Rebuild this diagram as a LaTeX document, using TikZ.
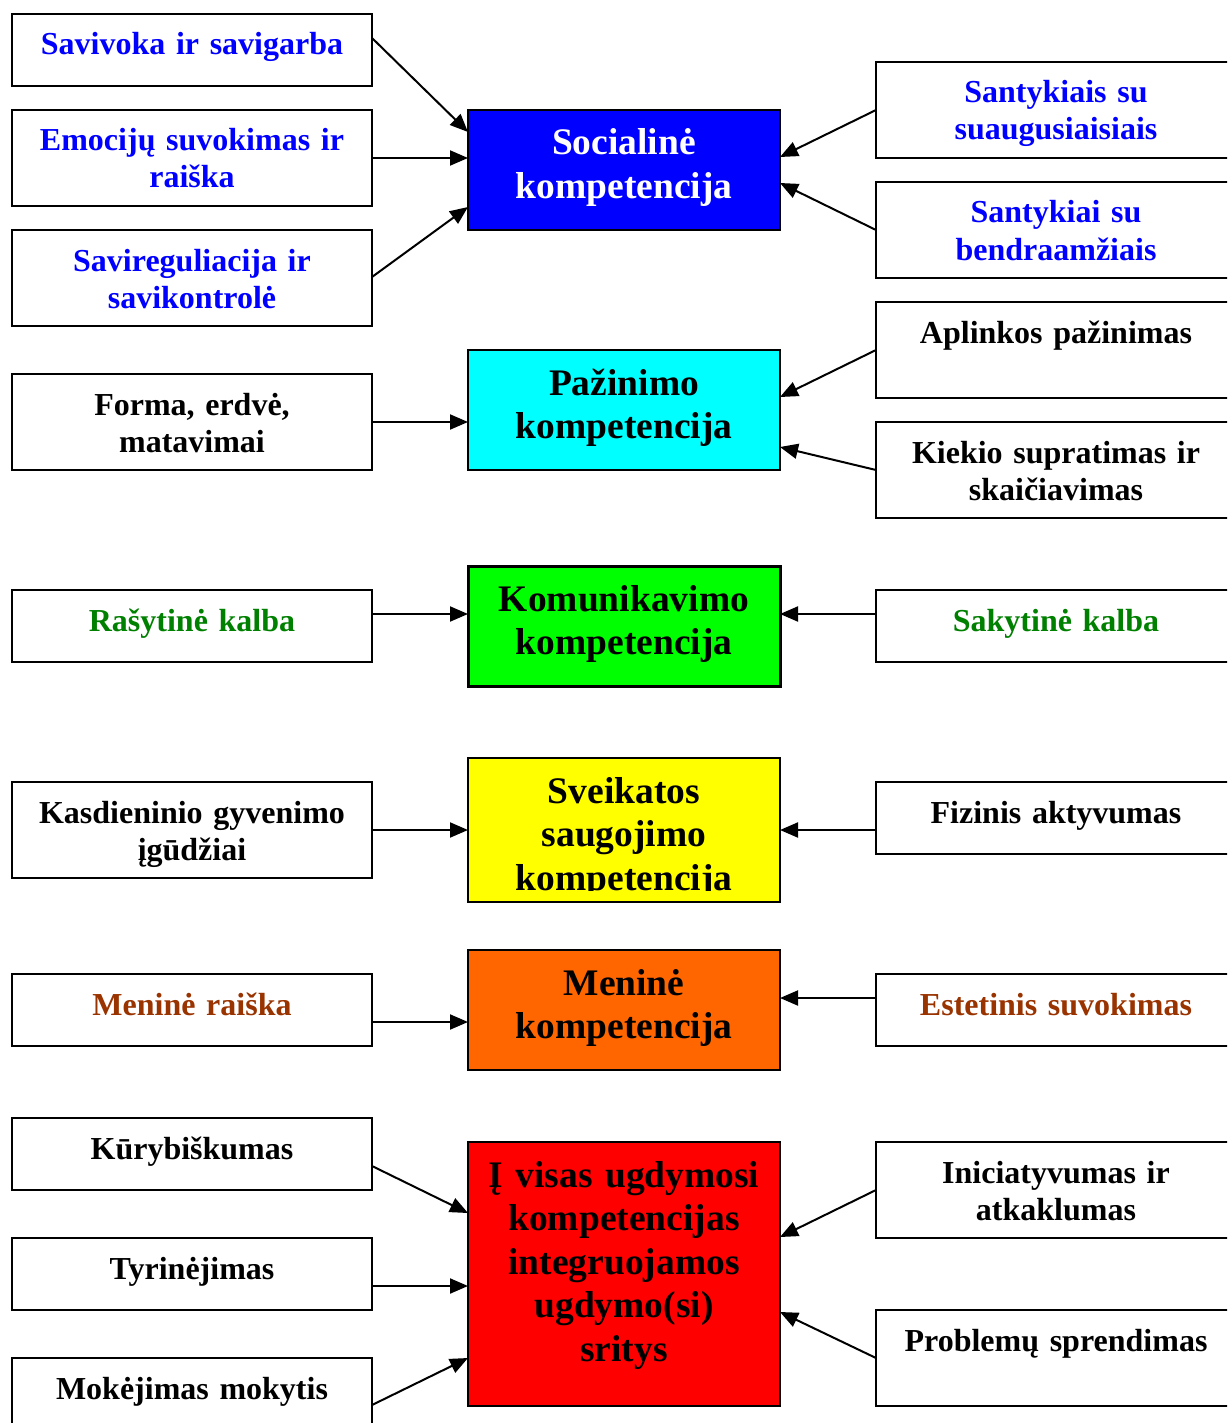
\documentclass[tikz,border=0pt]{standalone}
\usepackage{fontspec}
\setmainfont[WordSpace={0.85,0.5,0.5}]{Liberation Serif}
\usetikzlibrary{arrows.meta,calc}
\definecolor{tblue}{HTML}{0000FF}
\definecolor{tgreen}{HTML}{008000}
\definecolor{tbrown}{HTML}{993300}
\definecolor{fblue}{HTML}{0000FF}
\definecolor{fcyan}{HTML}{00FFFF}
\definecolor{fgreen}{HTML}{00FF00}
\definecolor{fyellow}{HTML}{FFFF00}
\definecolor{forange}{HTML}{FF6600}
\definecolor{fred}{HTML}{FF0000}
\tikzset{
  boxline/.style={draw=black, line width=2pt},
  sbox/.style={boxline, fill=white, anchor=north west, inner sep=0pt, outer sep=0pt,
    text width=360pt, align=center, text height=41pt, text depth=31pt,
    font=\fontsize{32}{37}\selectfont\bfseries},
  tall/.style={text depth=55pt},
  cbox/.style={boxline, anchor=north west, inner sep=0pt, outer sep=0pt,
    text width=312pt, align=center, text height=45pt, text depth=75pt,
    font=\fontsize{37.5}{43.5}\selectfont\bfseries},
  arr/.style={line width=2pt, -{Triangle[length=18pt,width=15pt]}}
}
\begin{document}
\begin{tikzpicture}[x=1pt,y=-1pt]
\useasboundingbox (0,0) rectangle (1227,1423);
\clip (0,0) rectangle (1227,1423);
\fill[white] (0,0) rectangle (1227,1423);

% centre boxes
\node[cbox, fill=fblue, text=white] (soc) at (468,110) {Socialinė\\kompetencija};
\node[cbox, fill=fcyan] (paz) at (468,350) {Pažinimo\\kompetencija};
\node[cbox, fill=fgreen, line width=3pt] (kom) at (468,566) {Komunikavimo\\kompetencija};
\begin{scope}
\clip (455,745) rectangle (795,891);
\node[cbox, fill=fyellow, text depth=99pt] (sv) at (468,758) {Sveikatos\\saugojimo\\kompetencija};
\end{scope}
\fill[fyellow] (sv.south west) rectangle ([yshift=11pt]sv.south east);
\draw[boxline] (sv.south west) rectangle (sv.north east);
\node[cbox, fill=forange] (men) at (468,950) {Meninė\\kompetencija};
\node[cbox, fill=fred, text depth=219pt] (red) at (468,1142) {Į visas ugdymosi\\kompetencijas\\integruojamos\\ugdymo(si)\\sritys};

% left boxes
\node[sbox, text=tblue] (l1) at (12,14) {Savivoka ir savigarba};
\node[sbox, tall, text=tblue] (l2) at (12,110) {Emocijų suvokimas ir\\raiška};
\node[sbox, tall, text=tblue] (l3) at (12,230) {Savireguliacija ir\\savikontrolė};
\node[sbox, tall] (l4) at (12,374) {Forma, erdvė,\\matavimai};
\node[sbox, text=tgreen] (l5) at (12,590) {Rašytinė kalba};
\node[sbox, tall] (l6) at (12,782) {Kasdieninio gyvenimo\\įgūdžiai};
\node[sbox, text=tbrown] (l7) at (12,974) {Meninė raiška};
\node[sbox] (l8) at (12,1118) {Kūrybiškumas};
\node[sbox] (l9) at (12,1238) {Tyrinėjimas};
\node[sbox] (l10) at (12,1358) {Mokėjimas mokytis};

% right boxes
\node[sbox, tall, text=tblue] (r1) at (876,62) {Santykiais su\\suaugusiaisiais};
\node[sbox, tall, text=tblue] (r2) at (876,182) {Santykiai su\\bendraamžiais};
\node[sbox, tall] (r3) at (876,302) {Aplinkos pažinimas};
\node[sbox, tall] (r4) at (876,422) {Kiekio supratimas ir\\skaičiavimas};
\node[sbox, text=tgreen] (r5) at (876,590) {Sakytinė kalba};
\node[sbox] (r6) at (876,782) {Fizinis aktyvumas};
\node[sbox, text=tbrown] (r7) at (876,974) {Estetinis suvokimas};
\node[sbox, tall] (r8) at (876,1142) {Iniciatyvumas ir\\atkaklumas};
\node[sbox, tall] (r9) at (876,1310) {Problemų sprendimas};

% left arrows
\draw[arr] ($(l1.north east)+(0,24)$) -- ($(soc.north west)+(0,22)$);
\draw[arr] ($(l2.north east)+(0,48)$) -- ($(soc.north west)+(0,48)$);
\draw[arr] ($(l3.north east)+(0,47)$) -- ($(soc.north west)+(0,97)$);
\draw[arr] ($(l4.north east)+(0,48)$) -- ($(paz.north west)+(0,72)$);
\draw[arr] ($(l5.north east)+(0,24)$) -- ($(kom.north west)+(0,48)$);
\draw[arr] ($(l6.north east)+(0,48)$) -- ($(sv.north west)+(0,72)$);
\draw[arr] ($(l7.north east)+(0,48)$) -- ($(men.north west)+(0,72)$);
\draw[arr] ($(l8.north east)+(0,48)$) -- ($(red.north west)+(0,71)$);
\draw[arr] ($(l9.north east)+(0,48)$) -- ($(red.north west)+(0,144)$);
\draw[arr] ($(l10.north east)+(0,47)$) -- ($(red.north west)+(0,216)$);

% right arrows
\draw[arr] ($(r1.north west)+(0,48)$) -- ($(soc.north east)+(0,47)$);
\draw[arr] ($(r2.north west)+(0,48)$) -- ($(soc.north east)+(0,73)$);
\draw[arr] ($(r3.north west)+(0,48)$) -- ($(paz.north east)+(0,47)$);
\draw[arr] ($(r4.north west)+(0,48)$) -- ($(paz.north east)+(0,97)$);
\draw[arr] ($(r5.north west)+(0,24)$) -- ($(kom.north east)+(0,48)$);
\draw[arr] ($(r6.north west)+(0,48)$) -- ($(sv.north east)+(0,72)$);
\draw[arr] ($(r7.north west)+(0,24)$) -- ($(men.north east)+(0,48)$);
\draw[arr] ($(r8.north west)+(0,48)$) -- ($(red.north east)+(0,95)$);
\draw[arr] ($(r9.north west)+(0,48)$) -- ($(red.north east)+(0,170)$);
\end{tikzpicture}
\end{document}
